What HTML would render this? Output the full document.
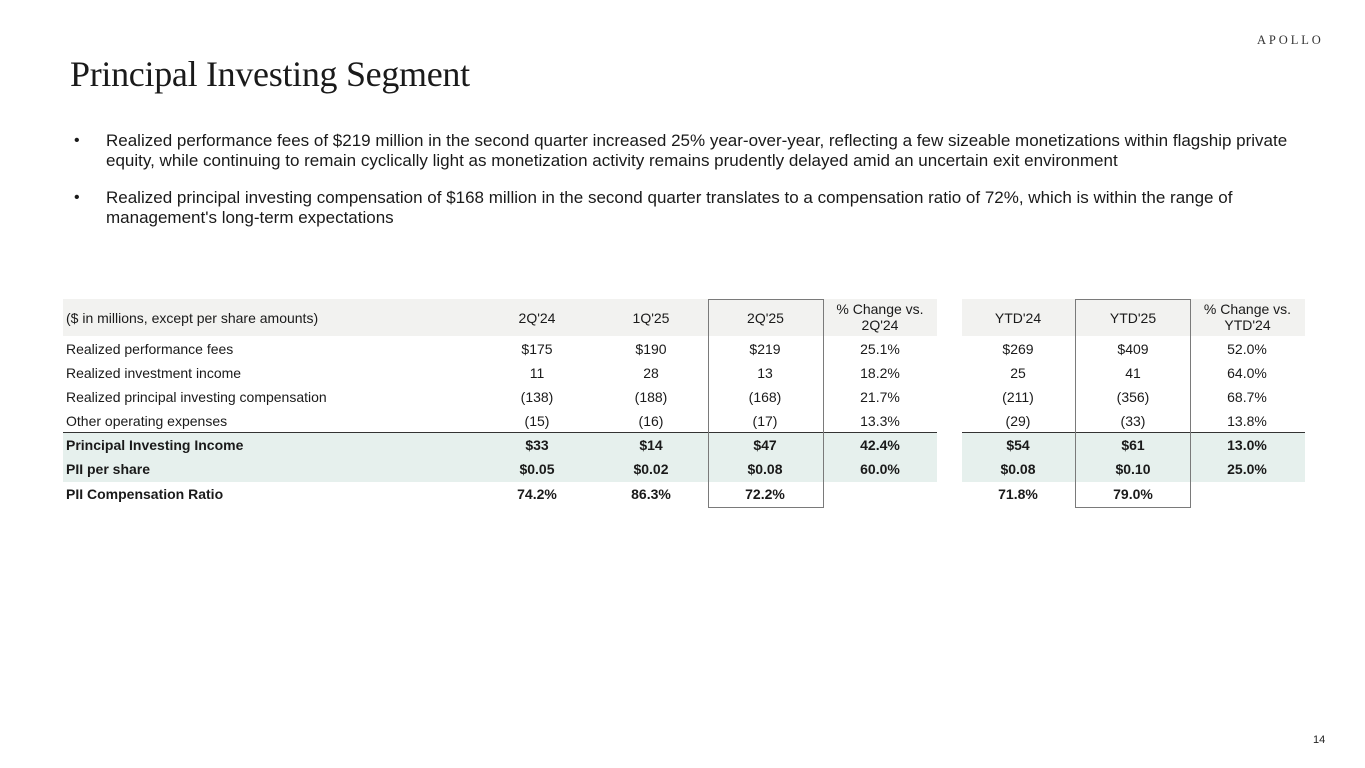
<!DOCTYPE html>
<html><head><meta charset="utf-8">
<style>
*{margin:0;padding:0;box-sizing:border-box}
body{width:1365px;height:768px;background:#fff;position:relative;overflow:hidden;font-family:"Liberation Sans",Arial,sans-serif;color:#1a1a1a}
.title{position:absolute;left:70px;top:53px;font-family:"Liberation Serif",serif;font-size:36px;color:#1a1a1a;white-space:nowrap;letter-spacing:-0.3px}
.logo{position:absolute;left:1257px;top:33px;font-family:"Liberation Serif",serif;font-size:12.5px;letter-spacing:2.9px;color:#333;white-space:nowrap}
.pn{position:absolute;left:1313px;top:734px;font-size:11px;color:#222}
.bl{position:absolute;font-size:17px;line-height:19.5px;white-space:nowrap;color:#1a1a1a}
.dot{position:absolute;left:74px;font-size:16px}
.bg{position:absolute}
.row{position:absolute;left:0;height:24px;line-height:24px;font-size:14px;white-space:nowrap;width:1365px}
.row span{position:absolute;text-align:center;width:114px}
.row .lab{left:66px;text-align:left;width:400px}
.c1{left:480px}.c2{left:594px}.c3{left:708px}.c4{left:823px}.c5{left:961px}.c6{left:1076px}.c7{left:1190px}
.b{font-weight:bold}
.hd{position:absolute;font-size:14px;text-align:center;line-height:15.5px;white-space:nowrap}
.box{position:absolute;border:1px solid #7a7a7a;top:299px;height:209px;width:116px}
.line{position:absolute;height:1px;background:#333;top:432px}
</style></head><body>
<div class="logo">APOLLO</div>
<div class="title">Principal Investing Segment</div>

<div class="dot" style="top:132px">•</div>
<div class="bl" style="left:106px;top:131px">Realized performance fees of $219 million in the second quarter increased 25% year-over-year, reflecting a few sizeable monetizations within flagship private<br>equity, while continuing to remain cyclically light as monetization activity remains prudently delayed amid an uncertain exit environment</div>
<div class="dot" style="top:189px">•</div>
<div class="bl" style="left:106px;top:188px">Realized principal investing compensation of $168 million in the second quarter translates to a compensation ratio of 72%, which is within the range of<br>management's long-term expectations</div>

<!-- backgrounds -->
<div class="bg" style="left:63px;top:299px;width:874px;height:37px;background:#f2f2f0"></div>
<div class="bg" style="left:962px;top:299px;width:343px;height:37px;background:#f2f2f0"></div>
<div class="bg" style="left:63px;top:433px;width:874px;height:49px;background:#e6f0ed"></div>
<div class="bg" style="left:962px;top:433px;width:343px;height:49px;background:#e6f0ed"></div>
<div class="line" style="left:63px;width:874px"></div>
<div class="line" style="left:962px;width:343px"></div>

<!-- header -->
<div class="hd" style="left:66px;top:311px;text-align:left">($ in millions, except per share amounts)</div>
<div class="hd" style="left:480px;width:114px;top:311px">2Q'24</div>
<div class="hd" style="left:594px;width:114px;top:311px">1Q'25</div>
<div class="hd" style="left:708px;width:115px;top:311px">2Q'25</div>
<div class="hd" style="left:823px;width:114px;top:302px">% Change vs.<br>2Q'24</div>
<div class="hd" style="left:961px;width:114px;top:311px">YTD'24</div>
<div class="hd" style="left:1076px;width:114px;top:311px">YTD'25</div>
<div class="hd" style="left:1190px;width:115px;top:302px">% Change vs.<br>YTD'24</div>

<div class="row" style="top:337px"><span class="lab">Realized performance fees</span><span class="c1">$175</span><span class="c2">$190</span><span class="c3">$219</span><span class="c4">25.1%</span><span class="c5">$269</span><span class="c6">$409</span><span class="c7">52.0%</span></div>
<div class="row" style="top:361px"><span class="lab">Realized investment income</span><span class="c1">11</span><span class="c2">28</span><span class="c3">13</span><span class="c4">18.2%</span><span class="c5">25</span><span class="c6">41</span><span class="c7">64.0%</span></div>
<div class="row" style="top:385px"><span class="lab">Realized principal investing compensation</span><span class="c1">(138)</span><span class="c2">(188)</span><span class="c3">(168)</span><span class="c4">21.7%</span><span class="c5">(211)</span><span class="c6">(356)</span><span class="c7">68.7%</span></div>
<div class="row" style="top:409px"><span class="lab">Other operating expenses</span><span class="c1">(15)</span><span class="c2">(16)</span><span class="c3">(17)</span><span class="c4">13.3%</span><span class="c5">(29)</span><span class="c6">(33)</span><span class="c7">13.8%</span></div>
<div class="row b" style="top:433px"><span class="lab">Principal Investing Income</span><span class="c1">$33</span><span class="c2">$14</span><span class="c3">$47</span><span class="c4">42.4%</span><span class="c5">$54</span><span class="c6">$61</span><span class="c7">13.0%</span></div>
<div class="row b" style="top:457px"><span class="lab">PII per share</span><span class="c1">$0.05</span><span class="c2">$0.02</span><span class="c3">$0.08</span><span class="c4">60.0%</span><span class="c5">$0.08</span><span class="c6">$0.10</span><span class="c7">25.0%</span></div>
<div class="row b" style="top:482px"><span class="lab">PII Compensation Ratio</span><span class="c1">74.2%</span><span class="c2">86.3%</span><span class="c3">72.2%</span><span class="c5">71.8%</span><span class="c6">79.0%</span></div>

<div class="box" style="left:708px"></div>
<div class="box" style="left:1075px"></div>

<div class="pn">14</div>
</body></html>
